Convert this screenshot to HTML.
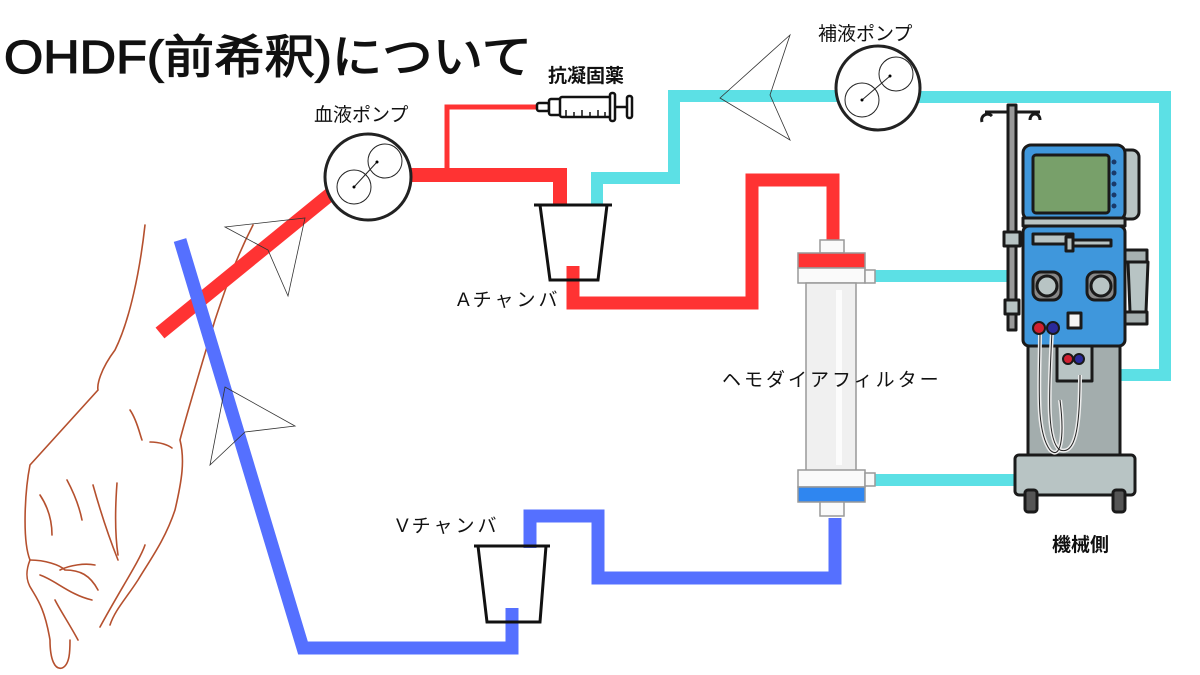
<!DOCTYPE html>
<html><head><meta charset="utf-8"><style>
html,body{margin:0;padding:0;background:#fff;}
svg{display:block}
text{font-family:"Liberation Sans","Noto Sans CJK JP",sans-serif;fill:#111}
</style></head><body>
<svg width="1200" height="675" viewBox="0 0 1200 675" xmlns="http://www.w3.org/2000/svg">
<rect width="1200" height="675" fill="#fff"/>
<text x="4" y="73" font-size="46" stroke="#111" stroke-width="1.2" textLength="528" lengthAdjust="spacingAndGlyphs">OHDF(前希釈)について</text>

<!-- hand -->
<g fill="none" stroke="#b5502e" stroke-width="1.6" stroke-linecap="round">
<path d="M145 225 C140 270 130 320 115 350 C100 370 97 385 98 390 L30 465 C25 490 22 540 30 560 C26 570 25 580 32 590 C38 600 45 610 50 640 C50 660 55 670 62 668 C70 665 70 650 70 640"/>
<path d="M253 225 C235 260 225 290 215 320 C200 370 185 420 180 440 C185 460 182 480 175 510 C165 540 150 560 138 580 C125 600 115 610 110 625"/>
<path d="M30 560 C45 560 60 565 65 570 C80 570 90 575 98 590"/>
<path d="M40 575 C55 580 70 595 92 600"/>
<path d="M55 600 C60 610 70 625 78 640"/>
<path d="M100 627 C120 590 140 560 145 545"/>
<path d="M40 495 C50 510 52 525 52 535"/>
<path d="M67 480 C75 495 80 510 82 520"/>
<path d="M93 485 C100 510 110 540 118 560"/>
<path d="M117 483 C115 510 115 535 118 555"/>
<path d="M130 410 C137 420 140 435 142 440"/>
<path d="M150 442 C160 442 168 445 172 448"/>
<path d="M60 570 C70 565 85 563 95 565"/>
</g>

<!-- red line -->
<g stroke="#ff3333" fill="none" stroke-linecap="butt">
<line x1="160" y1="333" x2="333" y2="192" stroke-width="14"/>
<polyline points="410,175 560,175 560,206" stroke-width="14"/>
<polyline points="447,175 447,107 540,107" stroke-width="5"/>
<polyline points="573,266 573,303 752,303 752,180 833,180 833,243" stroke-width="13"/>
</g>
<!-- blue line -->
<g stroke="#5570ff" fill="none">
<polyline points="180,240 303,648 512,648 512,608" stroke-width="13"/>
<polyline points="835,518 835,578 598,578 598,516 530,516 530,548" stroke-width="13"/>
</g>
<!-- cyan -->
<g stroke="#5ce0e5" fill="none" stroke-width="12">
<polyline points="597,206 597,178 674,178 674,96 840,96"/>
<polyline points="918,97 1165,97 1165,375 1108,375"/>
<line x1="870" y1="276" x2="1015" y2="276"/>
<line x1="870" y1="480" x2="1015" y2="480"/>
</g>

<!-- arrows -->
<g fill="none" stroke="#333" stroke-width="0.8">
<polygon points="225,227 305,218 288,296 268,250"/>
<polygon points="225,387 295,426 245,432 210,465"/>
<polygon points="790,35 720,98 790,140 770,95"/>
</g>

<!-- pumps -->
<g fill="#fff" stroke="#222">
<circle cx="368" cy="177" r="43" stroke-width="3"/>
<circle cx="354" cy="187" r="17" stroke-width="1"/>
<circle cx="385" cy="161" r="17" stroke-width="1"/>
<line x1="354" y1="187" x2="377" y2="162" stroke-width="1"/>
<circle cx="878" cy="88" r="42" stroke-width="3"/>
<circle cx="862" cy="100" r="17" stroke-width="1"/>
<circle cx="896" cy="74" r="17" stroke-width="1"/>
<line x1="862" y1="100" x2="890" y2="76" stroke-width="1"/>
</g>
<circle cx="354" cy="187" r="1.5"/><circle cx="377" cy="162" r="1.5"/>
<circle cx="862" cy="100" r="1.5"/><circle cx="890" cy="76" r="1.5"/>

<!-- syringe -->
<g fill="#fff" stroke="#111" stroke-width="2.5">
<rect x="537" y="103" width="12" height="8" rx="2"/>
<rect x="549" y="99" width="12" height="16" rx="2"/>
<rect x="560" y="97" width="52" height="20" rx="2"/>
<rect x="610" y="93" width="5" height="28" rx="2"/>
<line x1="615" y1="107" x2="628" y2="107"/>
<rect x="627" y="96" width="5" height="22" rx="2"/>
</g>
<g stroke="#111" stroke-width="1.5"><line x1="566" y1="117" x2="566" y2="110"/><line x1="574" y1="117" x2="574" y2="112"/><line x1="582" y1="117" x2="582" y2="110"/><line x1="590" y1="117" x2="590" y2="112"/><line x1="598" y1="117" x2="598" y2="110"/><line x1="605" y1="117" x2="605" y2="112"/></g>

<!-- chambers -->
<g fill="none" stroke="#111" stroke-width="3">
<line x1="534" y1="205" x2="612" y2="205"/>
<polygon points="540,205 550,280 598,280 607,205"/>
<line x1="474" y1="546" x2="550" y2="546"/>
<polygon points="478,546 487,622 540,622 546,546"/>
</g>

<!-- filter -->
<g stroke="#999" stroke-width="1.5">
<rect x="820" y="240" width="24" height="13" fill="#fafafa"/>
<rect x="798" y="253" width="67" height="15" fill="#ff3333"/>
<rect x="798" y="268" width="67" height="15" fill="#fafafa"/>
<rect x="865" y="270" width="10" height="13" fill="#fafafa"/>
<rect x="806" y="283" width="50" height="188" fill="#f0f0f0"/>
<rect x="798" y="470" width="67" height="17" fill="#fafafa"/>
<rect x="798" y="487" width="67" height="15" fill="#2f86f0"/>
<rect x="865" y="473" width="10" height="13" fill="#fafafa"/>
<rect x="820" y="502" width="24" height="14" fill="#fafafa"/>
</g>
<rect x="836" y="290" width="6" height="175" fill="#fff" opacity="0.8"/>

<!-- machine -->
<g stroke="#1a1a1a" stroke-width="3" stroke-linejoin="round">
<path d="M982 122 C980 115 988 112 992 116 M1030 120 C1030 112 1040 112 1040 120" fill="none"/>
<line x1="985" y1="112" x2="1040" y2="112"/>
<rect x="1008" y="105" width="8" height="225" fill="#999"/>
<rect x="1004" y="232" width="16" height="14" fill="#b8c4c4"/>
<rect x="1005" y="300" width="14" height="14" fill="#b8c4c4"/>
<path d="M1122 150 h10 a7 7 0 0 1 7 7 v55 a7 7 0 0 1 -7 7 h-10z" fill="#b8c4c4"/>
<rect x="1125" y="250" width="22" height="12" fill="#a6b0b0"/>
<path d="M1128 262 h20 l-2 50 h-16z" fill="#b8c4c4"/>
<rect x="1125" y="312" width="22" height="12" fill="#a6b0b0"/>
<rect x="1028" y="335" width="92" height="135" fill="#a3adad"/>
<rect x="1015" y="455" width="120" height="40" rx="4" fill="#b8c4c4"/>
<rect x="1025" y="490" width="12" height="22" rx="3" fill="#555"/>
<rect x="1113" y="490" width="12" height="22" rx="3" fill="#555"/>
<rect x="1023" y="145" width="102" height="75" rx="8" fill="#3f97dc"/>
<rect x="1033" y="155" width="76" height="58" rx="3" fill="#78a06a"/>
<rect x="1023" y="218" width="102" height="8" fill="#b8c4c4"/>
<rect x="1023" y="226" width="102" height="120" rx="6" fill="#3f97dc"/>
<rect x="1033" y="234" width="40" height="10" fill="#b8c4c4"/>
<rect x="1066" y="237" width="7" height="14" fill="#b8c4c4"/>
<rect x="1073" y="240" width="38" height="6" fill="#b8c4c4"/>
<rect x="1033" y="272" width="28" height="28" rx="8" fill="#888"/>
<circle cx="1047" cy="286" r="10" fill="#b8c4c4"/>
<rect x="1087" y="272" width="28" height="28" rx="8" fill="#888"/>
<circle cx="1101" cy="286" r="10" fill="#b8c4c4"/>
<rect x="1068" y="313" width="13" height="15" fill="#f4f4f4"/>
<rect x="1057" y="346" width="35" height="35" fill="#b8c4c4"/>
</g>
<g fill="none" stroke="#eee" stroke-width="4"><path d="M1040 330 C1040 380 1035 430 1050 450 C1060 460 1065 440 1060 400 M1052 330 C1050 380 1045 440 1060 450 C1075 455 1080 430 1080 375"/></g>
<g fill="none" stroke="#222" stroke-width="1"><path d="M1040 330 C1040 380 1035 430 1050 450 C1060 460 1065 440 1060 400 M1052 330 C1050 380 1045 440 1060 450 C1075 455 1080 430 1080 375"/></g>
<g stroke="#1a1a1a" stroke-width="2">
<circle cx="1039" cy="328" r="6" fill="#d02030"/><circle cx="1053" cy="328" r="6" fill="#2a2a9a"/>
<circle cx="1068" cy="359" r="5" fill="#d02030"/><circle cx="1079" cy="359" r="5" fill="#2a2a9a"/>
</g>
<g fill="#1a3a6a"><circle cx="1114" cy="162" r="2.5"/><circle cx="1114" cy="173" r="2.5"/><circle cx="1114" cy="184" r="2.5"/><circle cx="1114" cy="195" r="2.5"/><circle cx="1114" cy="206" r="2.5"/></g>

<!-- labels -->
<text x="314" y="121" font-size="19">血液ポンプ</text>
<text x="548" y="82" font-size="19" font-weight="bold">抗凝固薬</text>
<text x="818" y="40" font-size="19">補液ポンプ</text>
<text x="457" y="306" font-size="19" letter-spacing="3">Aチャンバ</text>
<text x="396" y="532" font-size="19" letter-spacing="3">Vチャンバ</text>
<text x="722" y="386" font-size="19" letter-spacing="3">ヘモダイアフィルター</text>
<text x="1052" y="551" font-size="19" font-weight="bold">機械側</text>
</svg>
</body></html>
